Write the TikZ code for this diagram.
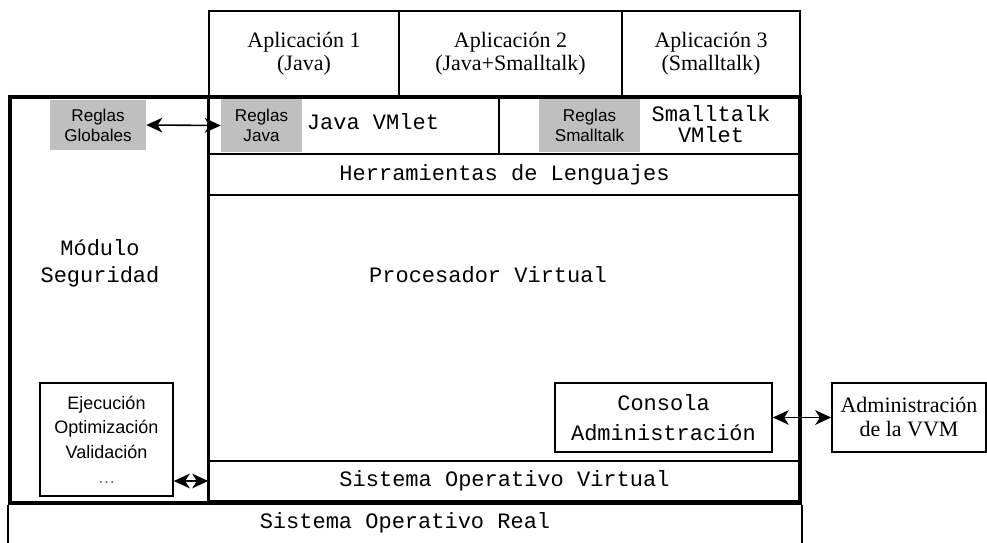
\documentclass[tikz,border=0pt]{standalone}
\usepackage{fontspec}
\setmainfont{Liberation Serif}
\setsansfont{Liberation Sans}
\setmonofont{Liberation Mono}
\usetikzlibrary{positioning,arrows.meta}
\definecolor{regla}{rgb}{0.75,0.75,0.75}
\tikzset{
	punta/.tip={Stealth[length=12pt,width=11pt,inset=3.5pt]},
	flecha/.style={punta-punta, line width=1.2pt},
	sz/.style 2 args={minimum width=#1*0.75pt, minimum height=#2*0.75pt},
	mono/.style={inner sep=0pt, align=center, font=\ttfamily\fontsize{16.5}{20}\selectfont},
	capa/.style={mono, draw, line width=1.2pt},
	app/.style={capa, font=\rmfamily\fontsize{16.5}{17}\selectfont},
	regla/.style={fill=regla, inner sep=0pt, align=center, font=\sffamily\fontsize{12.8}{15}\selectfont},
	modulo/.style={draw, line width=2.6pt, inner sep=0pt},
}
\begin{document}
\begin{tikzpicture}[x=0.75pt, y=-0.75pt]
	\useasboundingbox (0,0) rectangle (987,542);
	\node[app, sz={190}{86}] (app1) at (304,54) {Aplicación 1\\(Java)};
	\node[app, sz={223}{86}] (app2) at (510.5,54) {Aplicación 2\\(Java+Smalltalk)};
	\node[app, sz={178}{86}] (app3) at (711,54) {Aplicación 3\\(Smalltalk)};
	\node[capa, sz={290}{57}] (javavm) at (354,125.5) {};
	\node[capa, sz={301}{57}] (stvm) at (649.5,125.5) {};
	\node[regla, sz={81}{53}] (rjava) at (261.5,125.5) {Reglas\\Java};
	\node[regla, sz={101}{53}] (rst) at (589.5,125.5) {Reglas\\Smalltalk};
	\node[mono] (javatxt) at (373,122) {Java VMlet};
	\node[mono, font=\ttfamily\fontsize{16.5}{16}\selectfont] (sttxt) at (711,124) {Smalltalk\\VMlet};
	\node[capa, sz={591}{41}] (herr) at (504.5,174.5) {Herramientas de Lenguajes};
	\node[capa, sz={591}{266}] (proc) at (504.5,328) {};
	\node[mono] (proctxt) at (488,275) {Procesador Virtual};
	\node[capa, sz={591}{40}] (sov) at (504.5,481) {Sistema Operativo Virtual};
	\node[capa, font=\ttfamily\fontsize{16.5}{22.5}\selectfont, sz={217}{69}] (consola) at (663.5,417.5) {Consola\\Administración};
	\node[app, font=\rmfamily\fontsize{16.5}{18}\selectfont, sz={154}{69}] (admin) at (909,417.5) {Administración\\de la VVM};
	\node[capa, font=\sffamily\fontsize{13.5}{18.5}\selectfont, sz={133}{113}] (ejec) at (106.5,439.5) {Ejecución\\Optimización\\Validación\\\textcolor{black!60}{\dots}};
	\node[regla, sz={96}{50}] (rglob) at (98,125) {Reglas\\Globales};
	\node[mono] (modsec) at (100,263) {Módulo\\Seguridad};
	\node[modulo, sz={790}{406}] (vvm) at (405,300) {};
	\node[mono] (real) at (405,523) {Sistema Operativo Real};
	\draw[line width=1.2pt] (vvm.south west) -- +(0,45);
	\draw[line width=1.2pt] (vvm.south east) -- +(0,45);
	\draw[line width=1.2pt] (app1.south west) -- (vvm.south -| app1.south west);

	\draw[flecha] (rglob.east) -- (rjava.west);
	\draw[flecha] (consola.east) -- (admin.west);
	\draw[flecha] (ejec.east |- sov.west) -- (sov.west);
\end{tikzpicture}
\end{document}
